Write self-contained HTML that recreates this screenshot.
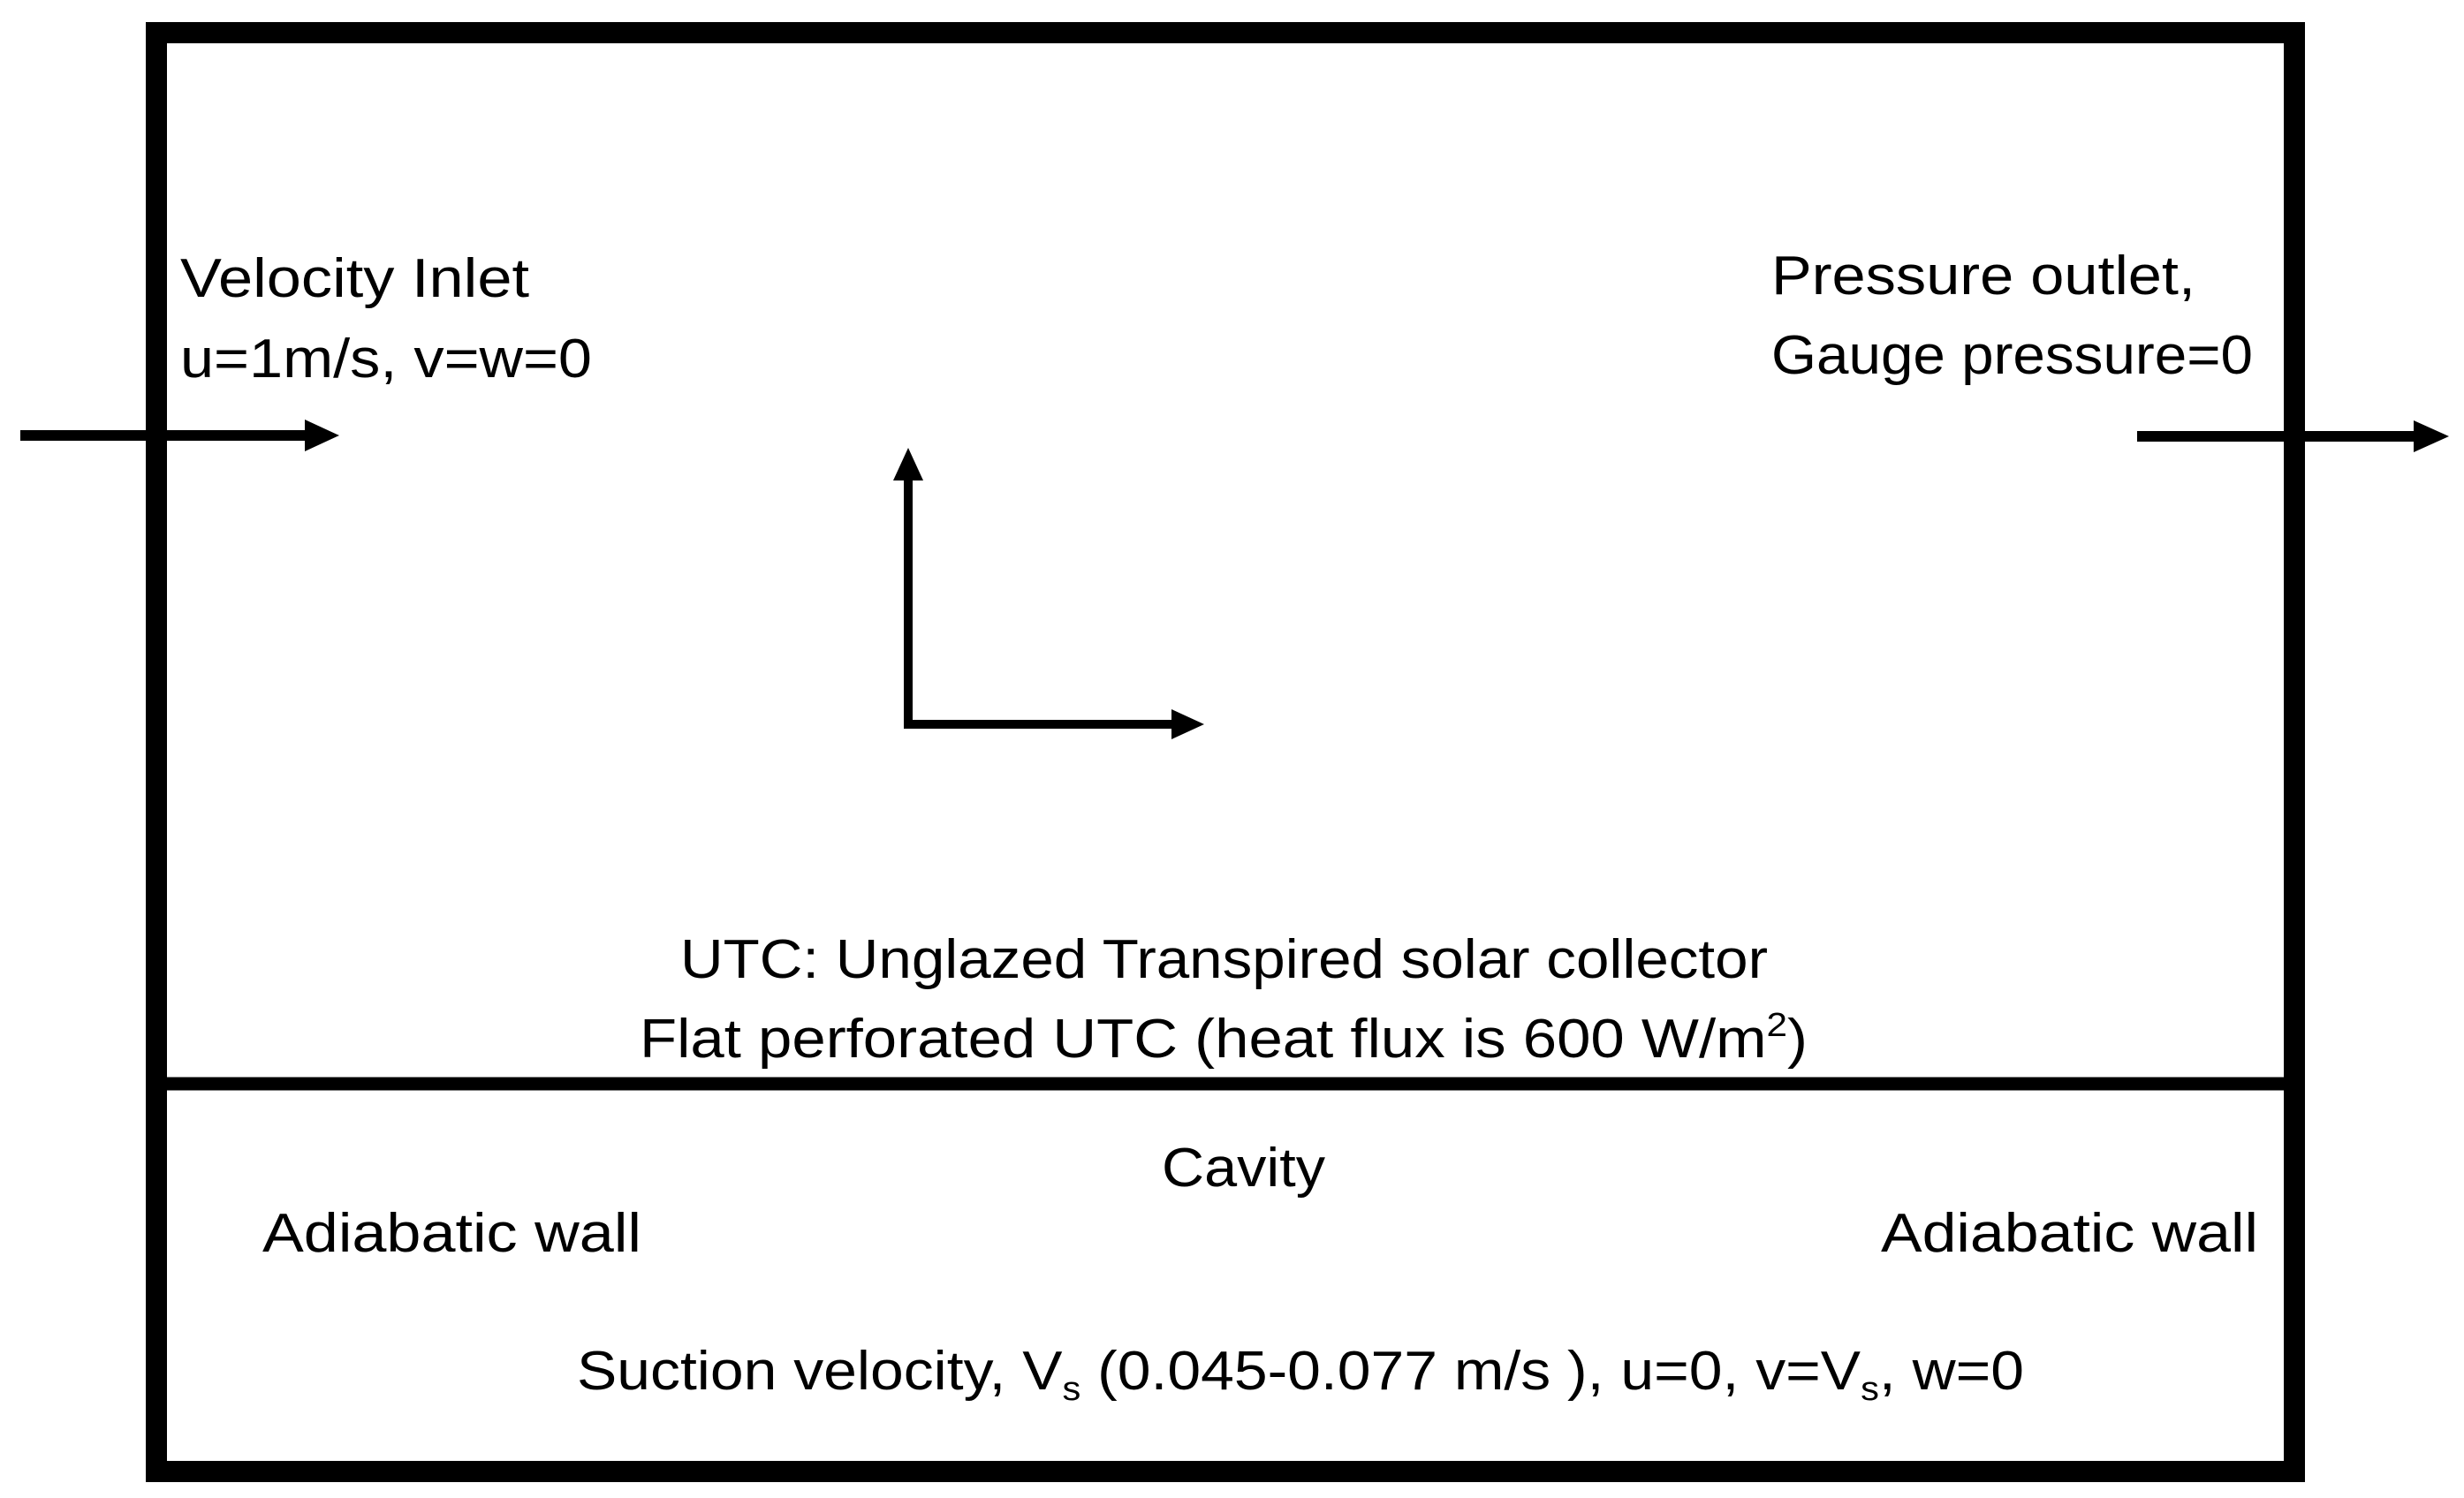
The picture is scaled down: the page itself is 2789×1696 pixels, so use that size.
<!DOCTYPE html>
<html><head><style>html,body{margin:0;padding:0;background:#fff}svg{display:block}</style></head>
<body>
<svg width="2789" height="1696" viewBox="0 0 2789 1696" xmlns="http://www.w3.org/2000/svg" font-family="'Liberation Sans', sans-serif" font-size="62" fill="#000">
<rect x="177" y="37" width="2420" height="1629" fill="none" stroke="#000" stroke-width="24"/>
<line x1="177" y1="1227" x2="2597" y2="1227" stroke="#000" stroke-width="15"/>
<line x1="23" y1="493" x2="350" y2="493" stroke="#000" stroke-width="12"/>
<polygon points="345,475 384,493 345,511"/>
<line x1="2419" y1="494" x2="2735" y2="494" stroke="#000" stroke-width="12"/>
<polygon points="2732,476 2772,494 2732,512"/>
<line x1="1028" y1="540" x2="1028" y2="820" stroke="#000" stroke-width="10"/>
<polygon points="1011,544 1028,507 1045,544"/>
<line x1="1023" y1="820" x2="1330" y2="820" stroke="#000" stroke-width="10"/>
<polygon points="1326,803 1363,820 1326,837"/>
<text x="204" y="336" textLength="395" lengthAdjust="spacingAndGlyphs">Velocity Inlet</text>
<text x="204" y="427" textLength="466" lengthAdjust="spacingAndGlyphs">u=1m/s, v=w=0</text>
<text x="2005" y="333" textLength="480" lengthAdjust="spacingAndGlyphs">Pressure outlet,</text>
<text x="2005" y="423" textLength="545" lengthAdjust="spacingAndGlyphs">Gauge pressure=0</text>
<text x="770" y="1107" textLength="1231" lengthAdjust="spacingAndGlyphs">UTC: Unglazed Transpired solar collector</text>
<text x="724" y="1197" textLength="1322" lengthAdjust="spacingAndGlyphs">Flat perforated UTC (heat flux is 600 W/m<tspan font-size="38" dy="-24">2</tspan><tspan dy="24">)</tspan></text>
<text x="1315" y="1343" textLength="185" lengthAdjust="spacingAndGlyphs">Cavity</text>
<text x="297" y="1417" textLength="429" lengthAdjust="spacingAndGlyphs">Adiabatic wall</text>
<text x="2129" y="1417" textLength="427" lengthAdjust="spacingAndGlyphs">Adiabatic wall</text>
<text x="653" y="1573" textLength="1638" lengthAdjust="spacingAndGlyphs">Suction velocity, V<tspan font-size="38" dy="12">s</tspan><tspan dy="-12"> (0.045-0.077 m/s ), u=0, v=V</tspan><tspan font-size="38" dy="12">s</tspan><tspan dy="-12">, w=0</tspan></text>
</svg>
</body></html>
